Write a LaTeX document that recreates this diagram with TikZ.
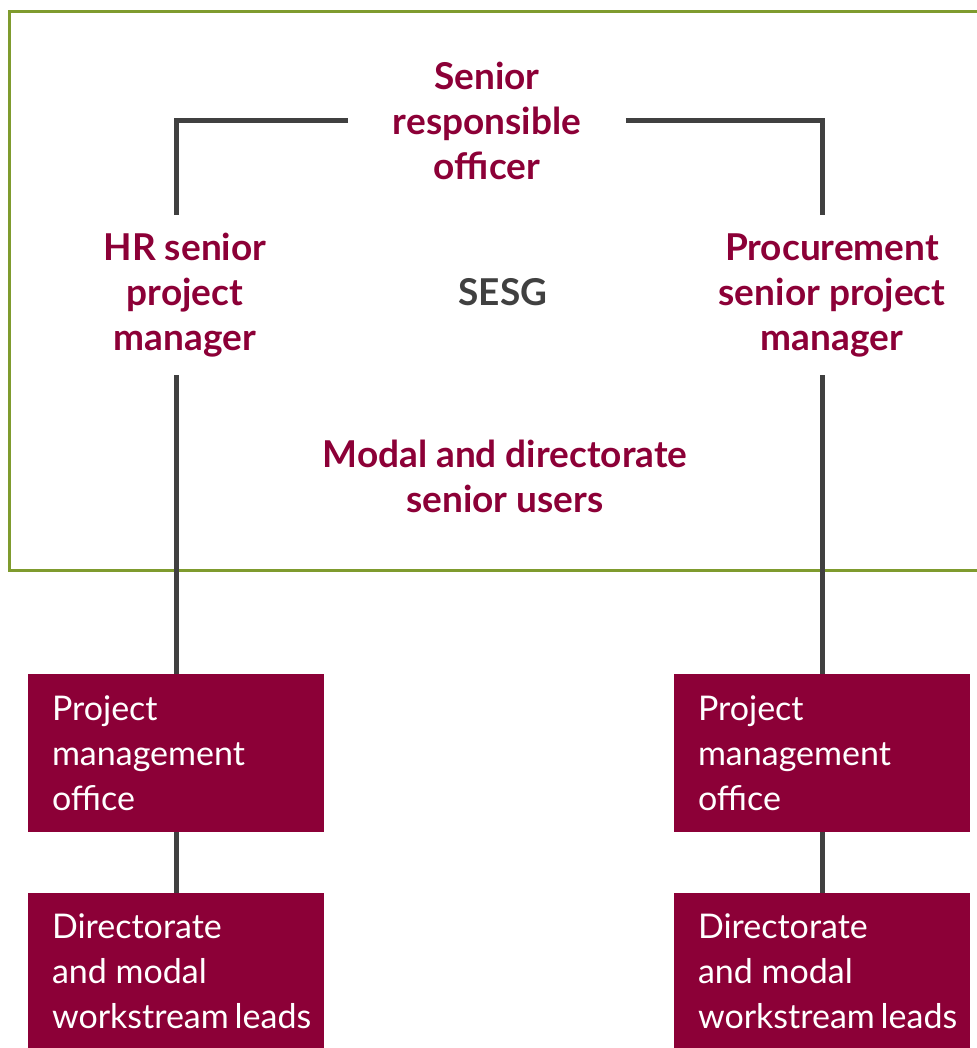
\documentclass[tikz,border=0pt]{standalone}
\usepackage{fontspec}
\setmainfont{Lato}
\usepackage{tikz}
\usetikzlibrary{calc,positioning}
\definecolor{wine}{HTML}{8C0037}
\definecolor{olive}{HTML}{7F9B2E}
\definecolor{darkline}{HTML}{404040}
\tikzset{
	role/.style={
		align=center, text=wine, inner sep=0pt,
		font=\bfseries\fontsize{18.5}{22.5}\selectfont
	},
	team/.style={
		rectangle, fill=wine, text=white, align=flush left,
		text width=124pt, inner xsep=12pt, inner ysep=0pt,
		minimum width=148pt,
		font=\fontsize{17}{22.5}\selectfont
	},
}
\begin{document}
\begin{tikzpicture}[x=0.5pt,y=-0.5pt,
			link/.style={draw=darkline, line width=2.5pt},
			frame/.style={draw=olive, line width=1.5pt}]
		\useasboundingbox (0,0) rectangle (976,1048);
		% steering group frame
		\draw[frame] (977,12) -- (9,12) -- (9,570) -- (977,570);
		\node[role, minimum width=138.5pt] (sro) at (487,121) {Senior\\responsible\\officer};
		\node[role, minimum height=80pt] (hr) at (185,295) {HR senior\\project\\manager};
		\node[role, minimum height=80pt] (proc) at (832,295) {Procurement\\senior project\\manager};
		\node[role, text=darkline] (sesg) at (503,292) {SESG};
		\node[role] (users) at (505,476) {Modal and directorate\\senior users};
		% teams below
		\node[team, minimum height=79pt] (pmoL) at (176,753) {Project\\management\\office};
		\node[team, minimum height=79pt] (pmoR) at (822,753) {Project\\management\\office};
		\node[team, minimum height=78pt] (leadsL) at (176,971) {Directorate\\and modal\\workstream~leads};
		\node[team, minimum height=78pt] (leadsR) at (822,971) {Directorate\\and modal\\workstream~leads};
		\draw[link] (sro.west) -| (pmoL.north |- hr.north);
		\draw[link] (sro.east) -| (pmoR.north |- proc.north);
		\draw[link] (pmoL.north |- hr.south) -- (pmoL.north);
		\draw[link] (pmoR.north |- proc.south) -- (pmoR.north);
		\draw[link] (pmoL) -- (leadsL);
		\draw[link] (pmoR) -- (leadsR);
	\end{tikzpicture}
\end{document}
